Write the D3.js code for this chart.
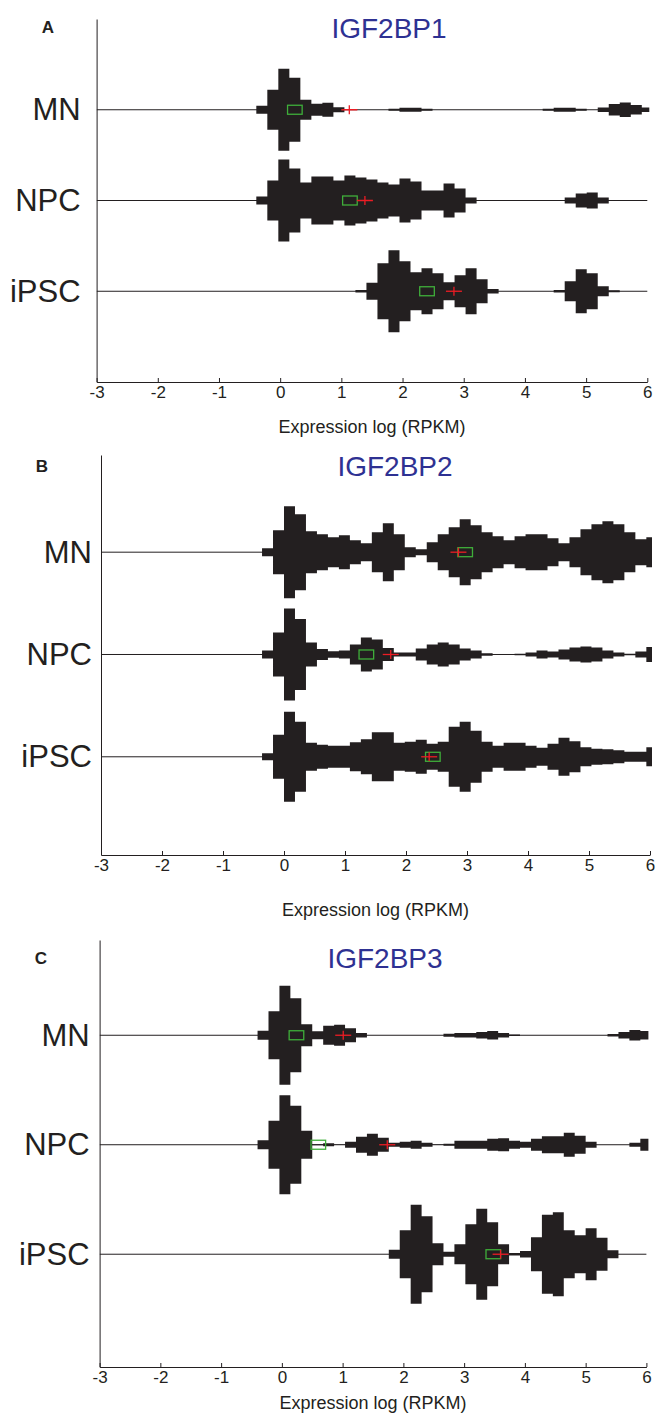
<!DOCTYPE html>
<html lang="en">
<head>
<meta charset="UTF-8">
<title>IGF2BP expression</title>
<script src="https://d3js.org/d3.v7.min.js"></script>
<style>
  body { margin: 0; background: #fff; }
  svg text { font-family: "Liberation Sans", Arial, Helvetica, sans-serif; fill: #231f20; }
</style>
</head>
<body>
<div id="chart"></div>
<script>
// ---- data ----
const genes = ["IGF2BP1", "IGF2BP2", "IGF2BP3"];
const panelLetters = ["A", "B", "C"];
const rowNames = ["MN", "NPC", "iPSC"];
const xTicks = [-3, -2, -1, 0, 1, 2, 3, 4, 5, 6];
const binWidth = 0.18;
const binStarts = [-0.39, -0.36, -0.40];

// histogram half-widths per bin (rows: MN, NPC, iPSC)
const countsA = [
  [4, 20, 41, 32, 10, 6, 7, 2.5, 0, 0, 0, 0, 1, 2, 2, 1, 0, 0, 0, 0, 0, 0, 0, 0, 0, 0, 1, 2, 2, 1, 0, 2.3, 5.7, 7.3, 4.7, 2.3],
  [4, 20, 41, 32, 18, 24, 24, 20, 25, 23, 21, 18, 16, 22, 19, 10, 10, 17, 12, 3, 0, 0, 0, 0, 0, 0, 0, 0, 3, 7, 8, 3],
  [0, 0, 0, 0, 0, 0, 0, 0, 0, 1.3, 8.5, 28, 41, 30, 19, 23, 18, 9, 16, 23, 12, 2.3, 0, 0, 0, 0, 0, 1.3, 10, 22, 18, 5, 1]
];
const countsB = [
  [4, 22, 46, 38, 21, 18, 15, 17, 12, 9, 20, 29, 18, 5, 3, 10, 18, 25, 33, 27, 20, 16, 12, 16, 18, 18, 14, 9, 15, 23, 28, 31, 28, 20, 13, 15],
  [4, 22, 46, 35.5, 12, 5.5, 3.3, 4, 10, 17, 15, 6.5, 2, 2, 6, 10, 12, 10, 6, 4, 1.3, 0, 0, 0.7, 2, 4, 3, 5, 7, 8, 7, 4, 2, 0.7, 3, 7.5],
  [3.5, 22, 45, 35, 14, 12, 11, 11, 14.5, 17.5, 24.5, 24.5, 14, 15, 17, 13, 15, 30, 35, 26, 15, 11, 14, 14, 11, 9, 13, 19, 15.5, 9.5, 8, 7.5, 6.5, 5, 5, 9.5]
];
const countsC = [
  [4.5, 24, 49.5, 37, 11, 4, 9.5, 10.5, 7, 2.3, 0, 0, 0, 0, 0, 0, 0, 1.5, 2.3, 2.3, 3.3, 4.3, 2.3, 0.7, 0, 0, 0, 0, 0, 0, 0, 0, 1.3, 3.3, 5.3, 4.3],
  [4.5, 24, 49.5, 39, 14, 0.5, 1.5, 0.3, 3, 8, 11, 7, 2, 3, 4, 2, 0.3, 1, 4, 4, 4, 6, 6.5, 4, 3, 6, 8.5, 8.5, 12, 9, 3, 0, 0, 0, 2, 6],
  [0, 0, 0, 0, 0, 0, 0, 0, 0, 0, 0, 0, 4.5, 24, 49.5, 38, 11, 2.5, 10, 30, 45.5, 32, 10, 1.3, 3.3, 17, 39.5, 42, 24, 19, 26, 16.5, 4]
];

// medians (green box) and means (red cross), rows MN, NPC, iPSC
const mediansA = [0.24, 1.14, 2.40];
const meansA = [1.13, 1.385, 2.84];
const mediansB = [2.97, 1.35, 2.44];
const meansB = [2.86, 1.75, 2.38];
const mediansC = [0.24, 0.60, 3.48];
const meansC = [1.01, 1.735, 3.60];

// y limits (row 1 = MN at top)
const yLimits = [[0, 4], [0.05, 3.96], [0.13, 4.03]];

// ---- layout ----
const layout = [
  { left: 96.6, right: 647.3, top: 19, bottom: 382, letter: [48, 27], title: [389, 28], xlabelY: 427, pad: 16 },
  { left: 101, right: 650, top: 455, bottom: 855, letter: [42, 466], title: [395, 466], xlabelY: 910, pad: 9 },
  { left: 99.6, right: 646.4, top: 940, bottom: 1367, letter: [41, 958], title: [385, 958], xlabelY: 1403, pad: 10 }
];

const panels = [
  { counts: countsA, medians: mediansA, means: meansA },
  { counts: countsB, medians: mediansB, means: meansB },
  { counts: countsC, medians: mediansC, means: meansC }
];

const svg = d3.select('#chart').append('svg')
  .attr('width', 656)
  .attr('height', 1414);

const ink = '#231f20';

panels.forEach((p, pi) => {
  const L = layout[pi];
  const g = svg.append('g');

  const x = d3.scaleLinear().domain([xTicks[0], xTicks[xTicks.length - 1]]).range([L.left, L.right]);
  const y = d3.scaleLinear().domain(yLimits[pi]).range([L.top, L.bottom]);
  const w = d3.scaleLinear().domain([0, 50]).range([0, 50]);

  const clipId = 'clip' + pi;
  svg.append('clipPath').attr('id', clipId)
    .append('rect')
    .attr('x', L.left).attr('y', L.top)
    .attr('width', L.right - L.left + 2).attr('height', L.bottom - L.top);

  const plot = g.append('g').attr('clip-path', `url(#${clipId})`);

  p.counts.forEach((row, ri) => {
    const cy = y(ri + 1);
    // baseline through the row
    plot.append('line')
      .attr('x1', x(-3)).attr('x2', x(6))
      .attr('y1', cy).attr('y2', cy)
      .attr('stroke', ink).attr('stroke-width', 1);

    const pts = row.map((c, k) => ({ v: binStarts[pi] + k * binWidth, c }));
    pts.push({ v: binStarts[pi] + row.length * binWidth, c: row[row.length - 1] });

    const area = d3.area()
      .curve(d3.curveStepAfter)
      .x(d => x(d.v))
      .y0(d => cy + w(d.c))
      .y1(d => cy - w(d.c));

    plot.append('path')
      .datum(pts)
      .attr('fill', ink)
      .attr('d', area);
  });

  // median boxes
  plot.selectAll('.med')
    .data(p.medians)
    .enter().append('rect')
    .attr('x', d => x(d) - 7.3)
    .attr('y', (d, i) => y(i + 1) - 4.5)
    .attr('width', 14.6).attr('height', 9)
    .attr('fill', 'none')
    .attr('stroke', '#3fae3a').attr('stroke-width', 1.3);

  // mean crosses
  const cross = plot.selectAll('.mean')
    .data(p.means)
    .enter().append('g')
    .attr('transform', (d, i) => `translate(${x(d)},${y(i + 1)})`);
  cross.append('line').attr('x1', -8).attr('x2', 8).attr('y1', 0).attr('y2', 0)
    .attr('stroke', '#ed1c24').attr('stroke-width', 1.3);
  cross.append('line').attr('x1', 0).attr('x2', 0).attr('y1', -4.5).attr('y2', 4.5)
    .attr('stroke', '#ed1c24').attr('stroke-width', 1.3);

  // y axis with row names
  const yAxis = g.append('g')
    .attr('transform', `translate(${L.left},0)`)
    .call(d3.axisLeft(y).tickValues([1, 2, 3]).tickFormat(d => rowNames[d - 1])
      .tickSize(0).tickPadding(L.pad));
  yAxis.select('.domain').attr('stroke', ink);
  yAxis.selectAll('text').style('font-size', '31px').attr('fill', ink);

  // x axis, ticks pointing inward
  const xAxis = g.append('g')
    .attr('transform', `translate(0,${L.bottom})`)
    .call(d3.axisBottom(x).tickValues(xTicks).tickSizeInner(-4).tickSizeOuter(0)
      .tickPadding(4).tickFormat(d => String(d)));
  xAxis.select('.domain').attr('stroke', ink);
  xAxis.selectAll('line').attr('stroke', ink);
  xAxis.selectAll('text').style('font-size', '17px').attr('fill', ink);

  g.append('text')
    .attr('x', (L.left + L.right) / 2).attr('y', L.xlabelY)
    .attr('text-anchor', 'middle').attr('dy', '0.35em')
    .style('font-size', '18px')
    .text('Expression log (RPKM)');

  g.append('text')
    .attr('x', L.letter[0]).attr('y', L.letter[1])
    .attr('text-anchor', 'middle').attr('dy', '0.35em')
    .style('font-size', '17px').style('font-weight', 'bold')
    .text(panelLetters[pi]);

  g.append('text')
    .attr('x', L.title[0]).attr('y', L.title[1])
    .attr('text-anchor', 'middle').attr('dy', '0.35em')
    .style('font-size', '28px').style('fill', '#2e3192')
    .text(genes[pi]);
});
</script>
</body>
</html>
